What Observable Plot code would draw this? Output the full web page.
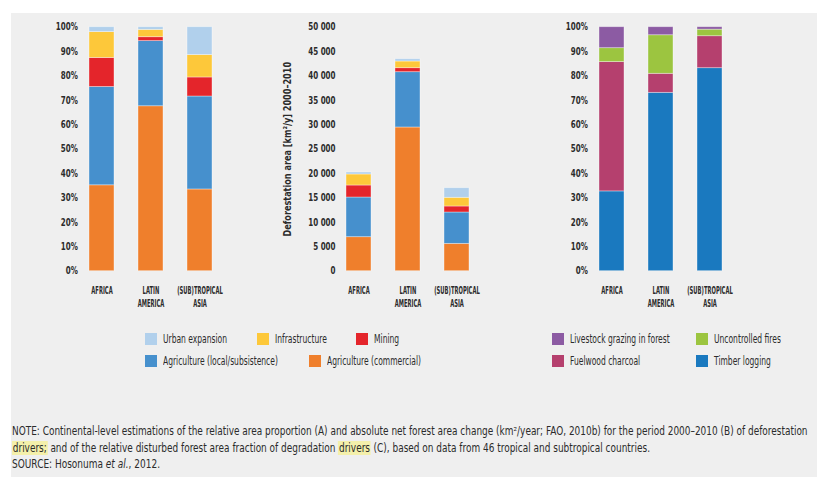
<!DOCTYPE html>
<html>
<head>
<meta charset="utf-8">
<script src="https://cdn.jsdelivr.net/npm/d3@7"></script>
<script src="https://cdn.jsdelivr.net/npm/@observablehq/plot@0.6"></script>
<style>
  html, body { margin: 0; padding: 0; background: #fff; }
  #page { position: relative; width: 817px; height: 477px; overflow: hidden; background: #fff;
          font-family: "DejaVu Sans", sans-serif; color: #2b2b2b; }
  #panel { position: absolute; left: 11px; top: 13px; right: 0; bottom: 0; background: #efefef; }
  .chart { position: absolute; left: 0; top: 0; }
  .chart svg { overflow: visible; background: transparent; }
  .key { position: absolute; display: flex; align-items: center; height: 12px; font-size: 12px; white-space: nowrap; }
  .key i { display: inline-block; flex: none; width: 12px; height: 12px; margin-right: 6px; }
  .squeeze { display: inline-block; transform-origin: 0 50%; white-space: nowrap; }
  #note { position: absolute; left: 12px; top: 423px; font-size: 11.5px; line-height: 16.5px; white-space: nowrap; color: #2b2b2b; }
  #note > div { height: 16.5px; }
  #note mark { background: #f4f0ab; color: inherit; padding: 0 1px; }
</style>
</head>
<body>
<div id="page">
  <div id="panel"></div>
  <div class="chart" id="chartA"></div>
  <div class="chart" id="chartB"></div>
  <div class="chart" id="chartC"></div>
  <div id="legends"></div>
  <div id="note">
    <div><span class="squeeze">NOTE: Continental-level estimations of the relative area proportion (A) and absolute net forest area change (km²/year; FAO, 2010b) for the period 2000–2010 (B) of deforestation</span></div>
    <div><span class="squeeze"><mark>drivers;</mark> and of the relative disturbed forest area fraction of degradation <mark>drivers</mark> (C), based on data from 46 tropical and subtropical countries.</span></div>
    <div><span class="squeeze">SOURCE: Hosonuma <i>et al.</i>, 2012.</span></div>
  </div>
</div>
<script>
// Regions and their axis labels
const regions = ["AFRICA", "LATIN AMERICA", "(SUB)TROPICAL ASIA"];
const regionLabels = ["AFRICA", "LATIN\nAMERICA", "(SUB)TROPICAL\nASIA"];

// Deforestation drivers, stacked bottom to top
const deforDrivers = ["Agriculture (commercial)", "Agriculture (local/subsistence)", "Mining", "Infrastructure", "Urban expansion"];
const deforColors = ["#ef7f2c", "#4690cd", "#e4252b", "#fdc83a", "#b1d0ec"];

// (A) relative area proportion, % per region
const shareCommercial = [35.2, 67.6, 33.5];
const shareLocal = [40.3, 26.7, 38.1];
const shareMining = [11.9, 1.6, 7.8];
const shareInfrastructure = [10.6, 3.0, 9.2];
const shareUrban = [2.0, 1.1, 11.4];

// (B) absolute net forest area change, km²/y (2000–2010)
const areaCommercial = [6970, 29450, 5600];
const areaLocal = [8130, 11330, 6430];
const areaMining = [2460, 820, 1230];
const areaInfrastructure = [2260, 1370, 1780];
const areaUrban = [410, 470, 1970];

// Degradation drivers, stacked bottom to top
const degrDrivers = ["Timber logging", "Fuelwood charcoal", "Uncontrolled fires", "Livestock grazing in forest"];
const degrColors = ["#1a79bf", "#b5406e", "#9cc540", "#8c5ba3"];

// (C) relative disturbed forest area fraction, % per region
const fracTimber = [32.7, 73.1, 83.2];
const fracFuelwood = [53.0, 7.8, 13.1];
const fracFires = [5.7, 15.8, 2.7];
const fracLivestock = [8.6, 3.3, 1.0];

const pctTicks = [0, 10, 20, 30, 40, 50, 60, 70, 80, 90, 100];
const areaTicks = [0, 5000, 10000, 15000, 20000, 25000, 30000, 35000, 40000, 45000, 50000];
const areaTitle = "Deforestation area [km²/y] 2000–2010";

function rows(drivers, series) {
  const out = [];
  drivers.forEach((d, j) => regions.forEach((r, i) => out.push({region: r, driver: d, value: series[j][i]})));
  return out;
}

const dataA = rows(deforDrivers, [shareCommercial, shareLocal, shareMining, shareInfrastructure, shareUrban]);
const dataB = rows(deforDrivers, [areaCommercial, areaLocal, areaMining, areaInfrastructure, areaUrban]);
const dataC = rows(degrDrivers, [fracTimber, fracFuelwood, fracFires, fracLivestock]);

// The type is a narrow grotesque; DejaVu Sans is squeezed horizontally to that width.
const family = '"DejaVu Sans", sans-serif';
const ctx = document.createElement("canvas").getContext("2d");
function measure(text, font) { ctx.font = font; return ctx.measureText(text).width; }
const kTick = 22 / measure("100%", `bold 10px ${family}`);
const kRegion = 45.6 / measure("(SUB)TROPICAL", `bold 11px ${family}`);
const kTitle = 175 / measure(areaTitle, `bold 11px ${family}`);
const kLegend = 64 / measure("Urban expansion", `12px ${family}`);

const W = 817, H = 320, mTop = 26.7, mBottom = H - 270.7;
const regionTexts = regionLabels.map((s) => s.replace("\n", ""));

// Squeeze every axis text about its own anchor point.
function squeezeTexts(svg) {
  svg.querySelectorAll("text").forEach((t) => {
    const s = t.textContent;
    const k = s === areaTitle ? kTitle : regionTexts.includes(s) ? kRegion : kTick;
    const x = +(t.getAttribute("x") || 0);
    const tr = t.getAttribute("transform") || "";
    t.setAttribute("transform", `${tr} translate(${x},0) scale(${k},1) translate(${-x},0)`);
  });
}

function panel({data, drivers, colors, left, right, yDomain, yTicks, yFormat, yLabel}) {
  const marks = [
    Plot.barY(data, Plot.stackY({x: "region", y: "value", fill: "driver", order: drivers,
      stroke: "#ffffff", strokeOpacity: 0.45, strokeWidth: 0.8})),
    Plot.axisX({tickSize: 0, tickPadding: 14, tickFormat: (d) => regionLabels[regions.indexOf(d)],
      fontSize: 11, fontWeight: "bold", lineHeight: 1.14, label: null}),
    Plot.axisY({ticks: yTicks, tickSize: 0, tickPadding: 11, tickFormat: yFormat,
      fontSize: 10, fontWeight: "bold", label: null})
  ];
  if (yLabel) {
    marks.push(Plot.axisY({ticks: [], tickSize: 0, label: yLabel, labelAnchor: "center",
      labelArrow: "none", labelOffset: 63, fontSize: 11, fontWeight: "bold"}));
  }
  const svg = Plot.plot({
    width: W, height: H,
    marginLeft: left, marginRight: W - right, marginTop: mTop, marginBottom: mBottom,
    style: {fontFamily: family, color: "#2b2b2b", background: "transparent", overflow: "visible"},
    x: {domain: regions, paddingInner: 0.5, paddingOuter: 0, axis: null},
    y: {domain: yDomain, axis: null},
    color: {domain: drivers, range: colors},
    marks
  });
  squeezeTexts(svg);
  return svg;
}

const pct = (d) => d + "%";
const spaced = (d) => d3.format(",")(d).replace(/,/g, " ");

document.getElementById("chartA").append(panel({data: dataA, drivers: deforDrivers, colors: deforColors,
  left: 88.3, right: 211.7, yDomain: [0, 100], yTicks: pctTicks, yFormat: pct}));
document.getElementById("chartB").append(panel({data: dataB, drivers: deforDrivers, colors: deforColors,
  left: 346, right: 469, yDomain: [0, 50000], yTicks: areaTicks, yFormat: spaced, yLabel: areaTitle}));
document.getElementById("chartC").append(panel({data: dataC, drivers: degrDrivers, colors: degrColors,
  left: 598.3, right: 722.7, yDomain: [0, 100], yTicks: pctTicks, yFormat: pct}));

// Legends
const legendItems = [
  {name: "Urban expansion", x: 145, y: 333},
  {name: "Infrastructure", x: 257, y: 333},
  {name: "Mining", x: 356, y: 333},
  {name: "Agriculture (local/subsistence)", x: 145, y: 355},
  {name: "Agriculture (commercial)", x: 309, y: 355},
  {name: "Livestock grazing in forest", x: 552, y: 333},
  {name: "Uncontrolled fires", x: 696, y: 333},
  {name: "Fuelwood charcoal", x: 552, y: 355},
  {name: "Timber logging", x: 696, y: 355}
];
const colorOf = (n) => {
  const i = deforDrivers.indexOf(n);
  return i >= 0 ? deforColors[i] : degrColors[degrDrivers.indexOf(n)];
};
const lg = document.getElementById("legends");
for (const it of legendItems) {
  const el = document.createElement("div");
  el.className = "key";
  el.style.left = it.x + "px";
  el.style.top = it.y + "px";
  const sw = document.createElement("i");
  sw.style.background = colorOf(it.name);
  const label = document.createElement("span");
  label.className = "squeeze";
  label.style.transform = `scaleX(${kLegend})`;
  label.textContent = it.name;
  el.append(sw, label);
  lg.append(el);
}

// Note lines: squeezed to the narrow type, the long first line kept inside the page
const noteSpans = [...document.querySelectorAll("#note .squeeze")];
const noteWidths = noteSpans.map((s) => s.getBoundingClientRect().width);
const kNote = 638 / noteWidths[1];
noteSpans.forEach((s, i) => {
  const k = i === 0 ? Math.min(kNote, 801 / noteWidths[0]) : i === 1 ? kNote : 148 / noteWidths[2];
  s.style.transform = `scaleX(${k})`;
});
</script>
</body>
</html>
